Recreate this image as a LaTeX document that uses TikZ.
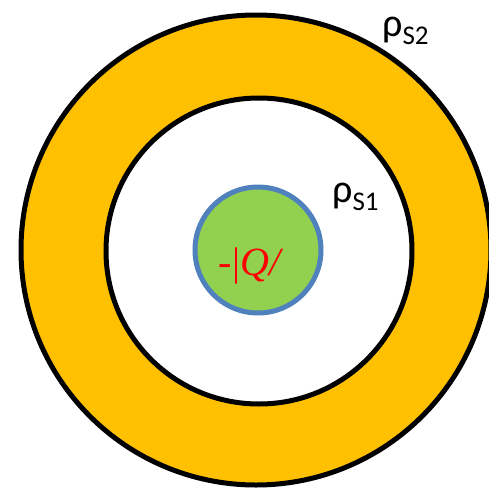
\documentclass[tikz,border=0pt]{standalone}
\usepackage{fontspec}
\newfontfamily\timesf{Liberation Serif}
\newfontfamily\calib{Carlito}
\definecolor{ringorange}{HTML}{FFC000}
\definecolor{coregreen}{HTML}{92D050}
\definecolor{coreblue}{HTML}{4F81BD}
\tikzset{
  shellline/.style={circle, draw=black, line width=5pt, inner sep=0pt},
  rholabel/.style={anchor=base west, inner sep=0pt, font=\calib\fontsize{40}{40}\selectfont},
}
\newcommand{\subs}[1]{\raisebox{-0.22em}{\fontsize{27}{27}\selectfont #1}}
\begin{document}
\begin{tikzpicture}[x=1pt,y=-1pt]
\useasboundingbox (0,0) rectangle (489,491);
\node[shellline, fill=ringorange, minimum size=470pt] (outer) at (256,250) {};
\node[shellline, fill=white, minimum size=306pt] (inner) at (259,251) {};
\node[circle, draw=coreblue, fill=coregreen, line width=5pt, inner sep=0pt, minimum size=126pt] (core) at (258,250) {};
\node[text=red, font=\timesf\fontsize{40}{42}\selectfont, anchor=base, inner sep=0pt] (charge) at (251,275) {-|\textit{Q/}};
\node[rholabel] (rho2) at (382,36) {ρ\subs{S2}};
\node[rholabel] (rho1) at (332,202) {ρ\subs{S1}};
\end{tikzpicture}
\end{document}
